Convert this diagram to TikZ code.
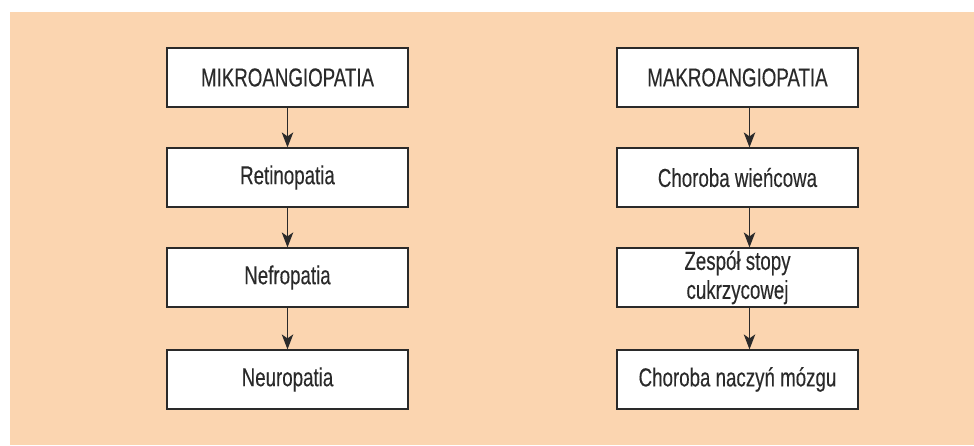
\documentclass[tikz,border=0pt]{standalone}
\usepackage{fontspec}
\setmainfont{Liberation Sans}[FakeStretch=0.72,FakeBold=0.2]
\usetikzlibrary{arrows.meta}
\definecolor{peach}{HTML}{FBD5B0}
\definecolor{ink}{HTML}{2A2A2A}
\begin{document}
\begin{tikzpicture}[x=1pt,y=-1pt,
  box/.style={draw=ink, line width=1.2pt, fill=white, minimum width=241pt, minimum height=59pt,
    inner sep=0pt, align=center, text=ink, font=\fontsize{26}{29}\selectfont},
  link/.style={draw=ink, line width=1.3pt, -{Stealth[length=15pt,width=11.5pt,inset=4pt]}}]
\useasboundingbox (0,0) rectangle (974,446);
\fill[peach] (10,12) rectangle (974,445);
\node[box] (mikro) at (287.5,77.5) {MIKROANGIOPATIA};
\node[box] (retino) at (287.5,177.5) {Retinopatia};
\node[box] (nefro) at (287.5,277.5) {Nefropatia};
\node[box] (neuro) at (287.5,379.5) {Neuropatia};
\node[box] (makro) at (737.5,77.5) {MAKROANGIOPATIA};
\node[box] (wien) at (737.5,177.5) {Choroba wieńcowa};
\node[box] (stopa) at (737.5,277.5) {Zespół stopy\\cukrzycowej};
\node[box] (mozg) at (737.5,379.5) {Choroba naczyń mózgu};
\draw[link] (mikro) -- (retino);
\draw[link] (retino) -- (nefro);
\draw[link] (nefro) -- (neuro);
\draw[link] ([xshift=12pt]makro.south) -- ([xshift=12pt]wien.north);
\draw[link] ([xshift=12pt]wien.south) -- ([xshift=12pt]stopa.north);
\draw[link] ([xshift=12pt]stopa.south) -- ([xshift=12pt]mozg.north);
\end{tikzpicture}
\end{document}
